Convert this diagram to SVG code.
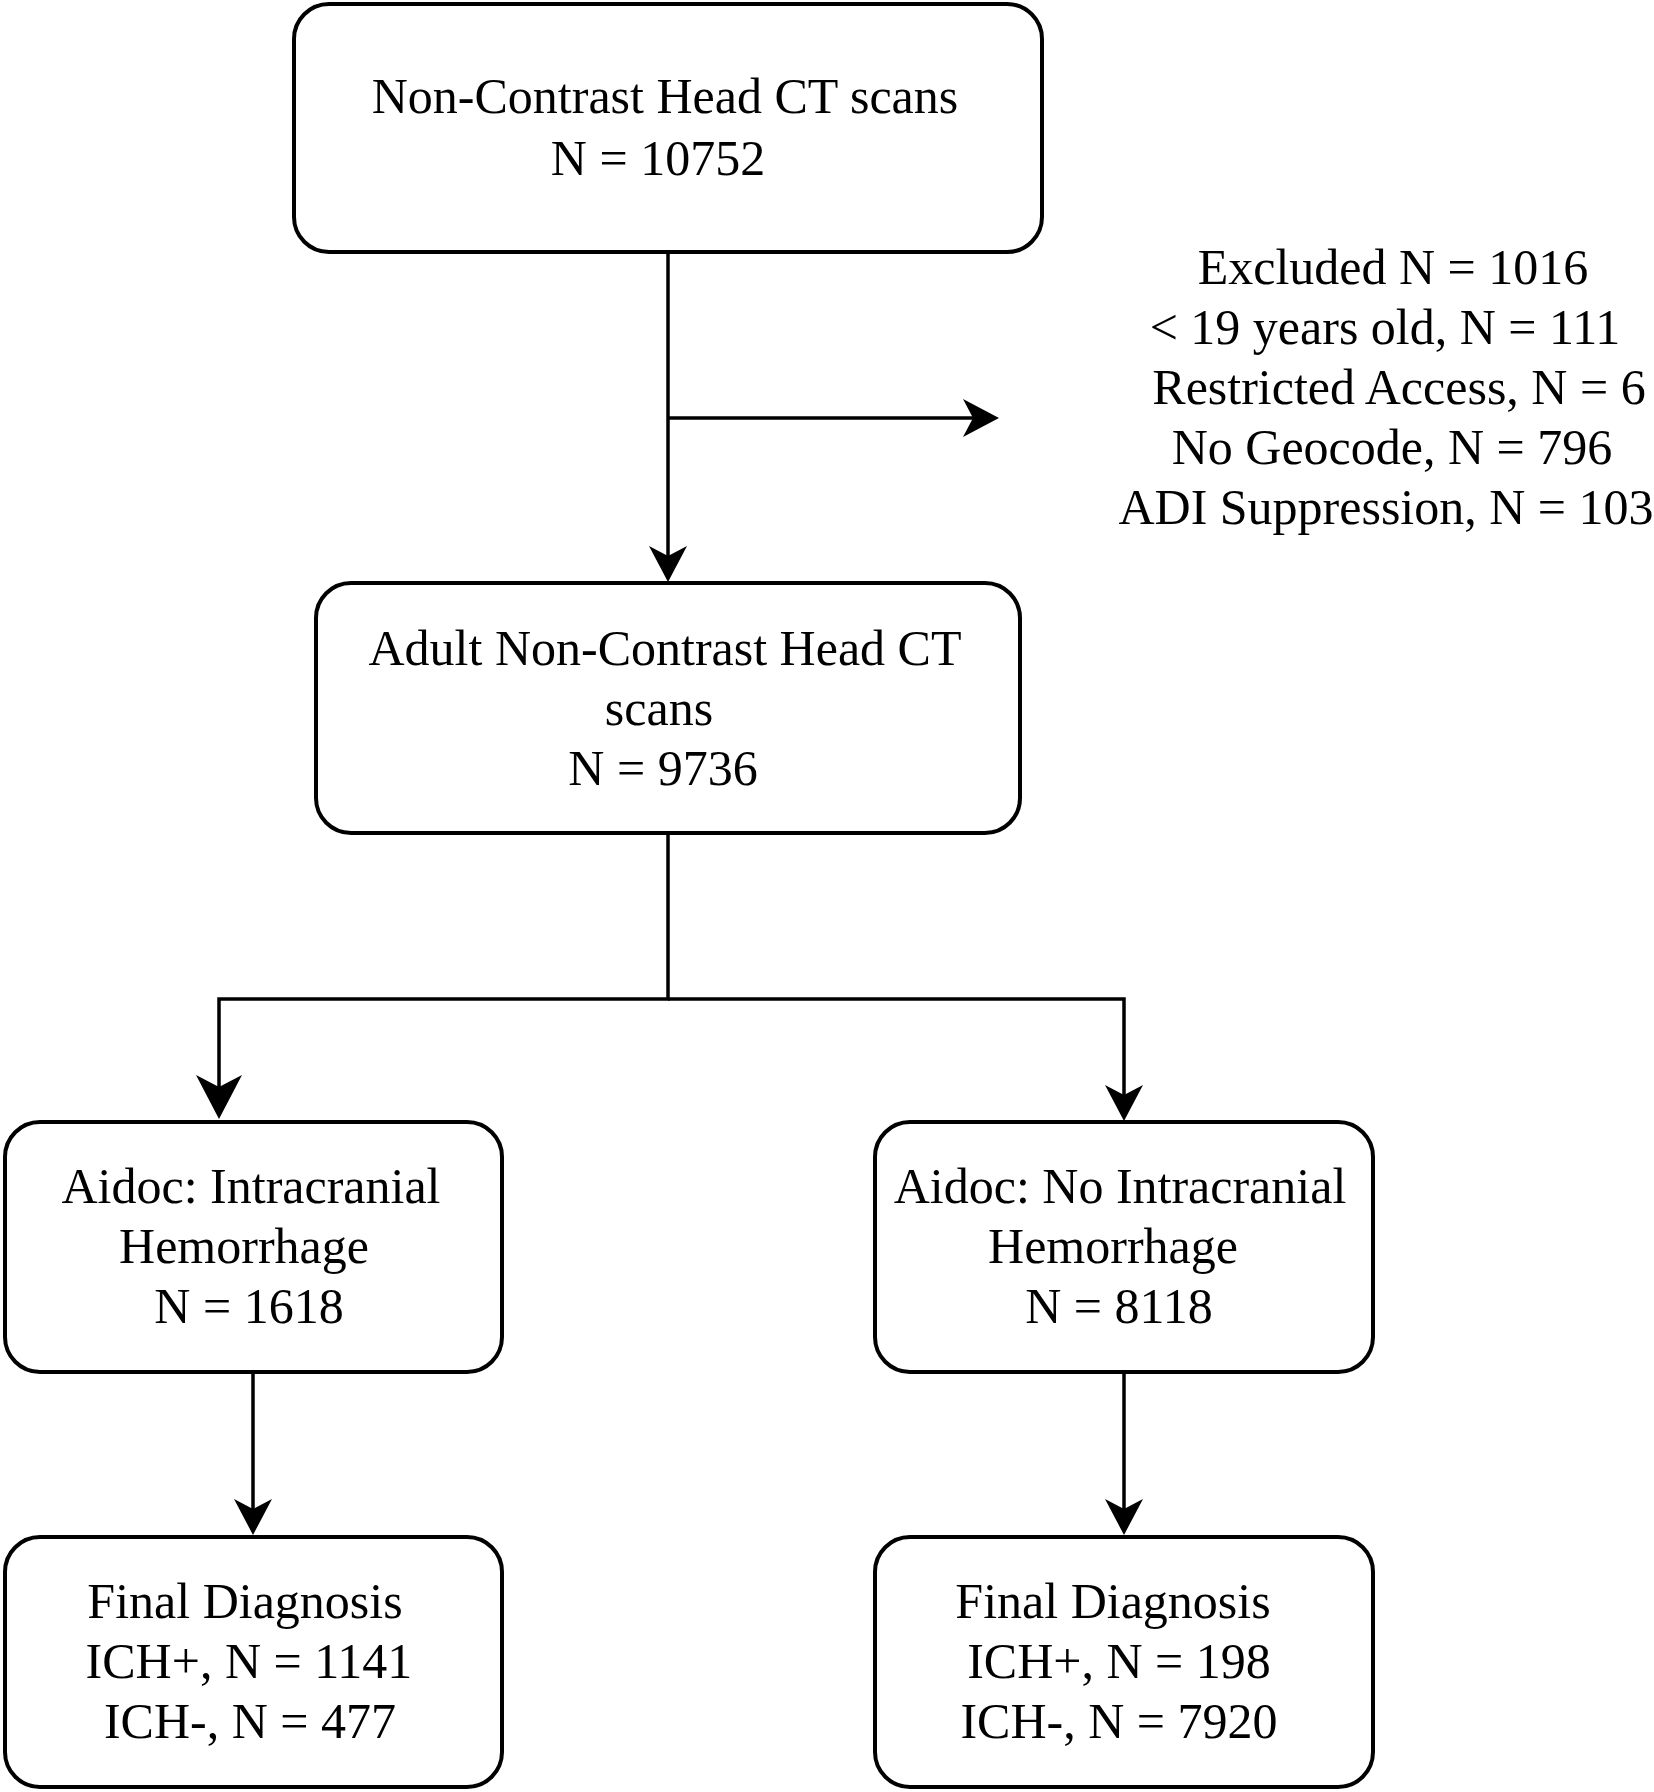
<svg xmlns="http://www.w3.org/2000/svg" width="1654" height="1792" viewBox="0 0 1654 1792">
<style>
.box{fill:#fff;stroke:#000;stroke-width:4}
.t{font-family:"Liberation Serif","Times New Roman",serif;font-size:50px;fill:#000;text-anchor:middle}
.c{fill:none;stroke:#000;stroke-width:3.5}
</style>
<defs>
<marker id="arr" markerUnits="userSpaceOnUse" markerWidth="40" markerHeight="40" refX="10" refY="20" orient="auto" overflow="visible">
<path d="M0,1 L36,20 L0,39 L10,20 Z" fill="#000"/>
</marker>
<marker id="arrBig" markerUnits="userSpaceOnUse" markerWidth="48" markerHeight="48" refX="12" refY="23" orient="auto" overflow="visible">
<path d="M0,0 L44,23 L0,46 L12,23 Z" fill="#000"/>
</marker>
</defs>
<rect width="1654" height="1792" fill="#fff"/>
<g id="connectors">
<path class="c" d="M668,252 L668,556" marker-end="url(#arr)"/>
<path class="c" d="M668,418 L973,418" marker-end="url(#arr)"/>
<path class="c" d="M668,833 L668,999 L219,999 L219,1087" marker-end="url(#arrBig)"/>
<path class="c" d="M668,999 L1124,999 L1124,1095" marker-end="url(#arr)"/>
<path class="c" d="M253,1372 L253,1509" marker-end="url(#arr)"/>
<path class="c" d="M1124,1372 L1124,1509" marker-end="url(#arr)"/>
</g>
<g id="node-all">
<rect class="box" x="294" y="4" width="748" height="248" rx="35"/>
<text class="t" x="665" y="113">Non-Contrast Head CT scans</text>
<text class="t" x="658" y="175">N = 10752</text>
</g>
<g id="node-excluded">
<text class="t" x="1393" y="284">Excluded N = 1016</text>
<text class="t" x="1385" y="344">&lt; 19 years old, N = 111</text>
<text class="t" x="1399" y="404">Restricted Access, N = 6</text>
<text class="t" x="1392" y="464">No Geocode, N = 796</text>
<text class="t" x="1386" y="524">ADI Suppression, N = 103</text>
</g>
<g id="node-adult">
<rect class="box" x="316" y="583" width="704" height="250" rx="35"/>
<text class="t" x="665" y="665">Adult Non-Contrast Head CT</text>
<text class="t" x="659" y="725">scans</text>
<text class="t" x="663" y="785">N = 9736</text>
</g>
<g id="node-ich">
<rect class="box" x="5" y="1122" width="497" height="250" rx="35"/>
<text class="t" x="251" y="1203">Aidoc: Intracranial</text>
<text class="t" x="244" y="1263">Hemorrhage</text>
<text class="t" x="249" y="1323">N = 1618</text>
</g>
<g id="node-noich">
<rect class="box" x="875" y="1122" width="498" height="250" rx="35"/>
<text class="t" x="1120" y="1203">Aidoc: No Intracranial</text>
<text class="t" x="1113" y="1263">Hemorrhage</text>
<text class="t" x="1119" y="1323">N = 8118</text>
</g>
<g id="node-final-ich">
<rect class="box" x="5" y="1537" width="497" height="250" rx="35"/>
<text class="t" x="245" y="1618">Final Diagnosis</text>
<text class="t" x="249" y="1678">ICH+, N = 1141</text>
<text class="t" x="250" y="1738">ICH-, N = 477</text>
</g>
<g id="node-final-noich">
<rect class="box" x="875" y="1537" width="498" height="250" rx="35"/>
<text class="t" x="1113" y="1618">Final Diagnosis</text>
<text class="t" x="1119" y="1678">ICH+, N = 198</text>
<text class="t" x="1119" y="1738">ICH-, N = 7920</text>
</g>
</svg>
